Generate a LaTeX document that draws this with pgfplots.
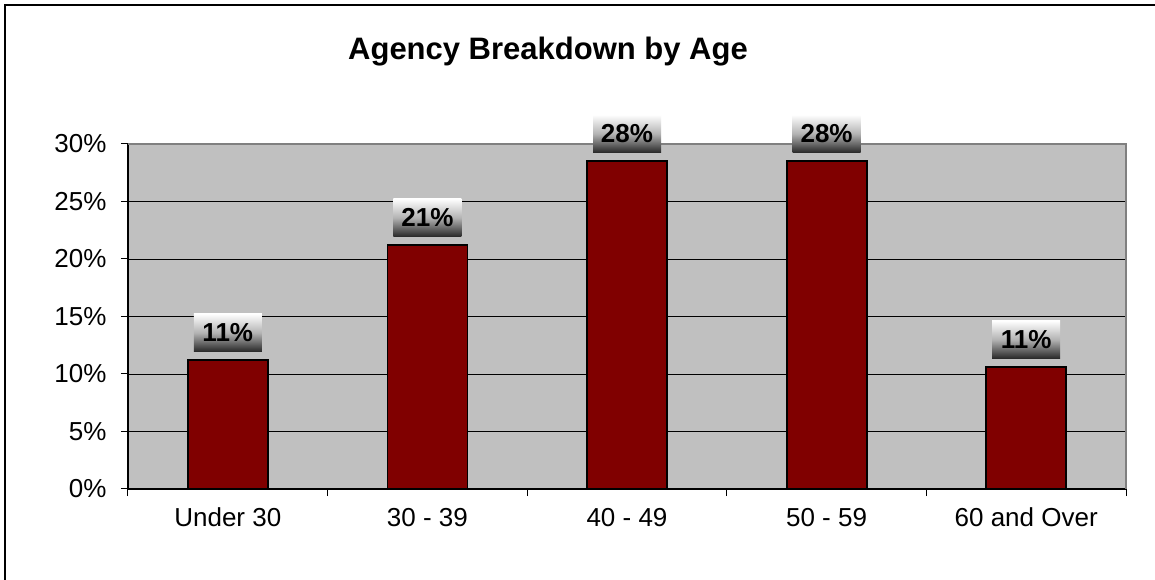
\documentclass[border=0pt]{standalone}
\usepackage{fontspec}
\setmainfont{Liberation Sans}
\usepackage{pgfplots}
\pgfplotsset{compat=1.18}
\definecolor{barred}{HTML}{800000}
\definecolor{plotbg}{HTML}{C0C0C0}
\definecolor{frameg}{HTML}{808080}
\begin{document}
\begin{tikzpicture}[x=1pt,y=1pt]
\useasboundingbox (-128,-91) rectangle (1027,489);
\fill[white] (-128,-91) rectangle (1027,489);
\begin{axis}[
  at={(0pt,0pt)}, anchor=south west,
  scale only axis, width=998pt, height=345pt,
  xmin=-0.5, xmax=4.5, ymin=0, ymax=30,
  ytick={0,5,...,30},
  xtick={-0.5,0.5,...,4.5},
  x tick label as interval,
  xticklabels={Under 30,30 - 39,40 - 49,50 - 59,60 and Over},
  axis x line*=bottom, axis y line*=left,
  axis line style={black, line width=1.2pt},
  tick align=outside, major tick length=7pt,
  every tick/.style={black, line width=1pt},
  ymajorgrids, grid style={black, line width=0.8pt},
  axis background/.style={fill=plotbg},
  tick label style={font=\fontsize{26}{26}\selectfont},
  /pgf/number format/assume math mode=true,
  yticklabel={\pgfmathprintnumber{\tick}\%},
  yticklabel style={xshift=-11pt},
  xticklabel style={text height=18pt, text depth=5pt, yshift=-9pt},
  clip=false,
]
\draw[frameg, line width=2pt] (rel axis cs:0,1) -- (rel axis cs:1,1) -- (rel axis cs:1,0);
\addplot[ybar, bar width=80pt, fill=barred, draw=black, line width=1.8pt,
  nodes near coords, point meta=explicit symbolic,
  nodes near coords style={anchor=south, yshift=7.5pt, inner sep=0pt,
    minimum width=68pt, minimum height=38pt, text=black,
    top color=white, bottom color=black!85, middle color=black!30,
    font=\fontsize{26}{26}\selectfont\bfseries}]
  table[meta=label] {
x y label
0 11.2 11\%
1 21.2 21\%
2 28.5 28\%
3 28.5 28\%
4 10.6 11\%
};
\end{axis}
\draw[black, line width=2pt] (-123,-91) -- (-123,484) -- (1027,484);
\node[font=\fontsize{31}{31}\selectfont\bfseries] at (420,437) {Agency Breakdown by Age};
\end{tikzpicture}
\end{document}
